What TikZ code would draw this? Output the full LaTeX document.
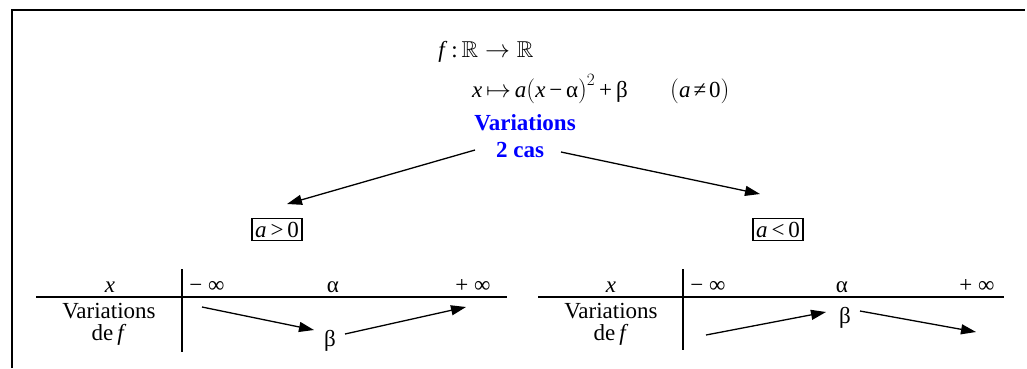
\documentclass[tikz,border=0pt]{standalone}
\usepackage{amssymb}
\usepackage{fontspec}
\setmainfont{Liberation Serif}
\usetikzlibrary{arrows.meta}
\definecolor{varblue}{RGB}{0,0,255}
\tikzset{
  txt/.style={inner sep=0pt, anchor=base, font=\fontsize{23}{24}\selectfont},
  boldblue/.style={txt, font=\fontsize{23}{24}\selectfont\bfseries, text=varblue},
  boxed/.style={txt, draw, line width=1.2pt, inner xsep=3pt, inner ysep=3pt},
  arr/.style={line width=1.3pt, -{Triangle[length=15pt,width=10pt]}},
  rule/.style={line width=2pt},
  frame/.style={line width=2pt}
}
\begin{document}
\begin{tikzpicture}[x=1pt,y=-1pt]
\useasboundingbox (0,0) rectangle (1027,368);
% frame (partly visible)
\coordinate (fb) at (12,368);
\coordinate (ftl) at (12,10);
\coordinate (ftr) at (1025,10);
\draw[frame] (fb) -- (ftl) -- (ftr);

% heading
\node[txt] (def1) at (486,57) {\textit{f}\,:\,$\mathbb{R}\to\mathbb{R}$};
\node[txt, anchor=base west] (def2) at (472,97) {\textit{x}\,$\mapsto$\,\textit{a}$\bigl($\textit{x}\,−\,α$\bigr)^{2}$\,+\,β};
\node[txt, anchor=base west] (cond) at (670,97) {$\bigl($\textit{a}\hspace{3pt}≠\hspace{3pt}0$\bigr)$};
\node[boldblue] (var1) at (525,130) {Variations};
\node[boldblue] (var2) at (520,157) {2 cas};

% cases
\node[boxed] (pos) at (277,237) {\textit{a}\hspace{4pt}>\hspace{4pt}0};
\node[boxed] (neg) at (778,237) {\textit{a}\hspace{4pt}<\hspace{4pt}0};
\coordinate (vl) at (475,150);
\coordinate (vr) at (561,152);
\coordinate (pl) at (287,204);
\coordinate (nr) at (760,194);
\draw[arr] (vl) -- (pl);
\draw[arr] (vr) -- (nr);

% left table
\coordinate (la) at (36,297);
\coordinate (lb) at (507,297);
\coordinate (lc) at (182,269);
\coordinate (ld) at (182,352);
\draw[rule] (la) -- (lb);
\draw[rule] (lc) -- (ld);
\node[txt] (lx) at (110,292) {\textit{x}};
\node[txt] (lmi) at (207,292) {− ∞};
\node[txt] (lal) at (333,292) {α};
\node[txt] (lpi) at (473,292) {+ ∞};
\node[txt] (lv1) at (109,318) {Variations};
\node[txt] (lv2) at (109,340) {de\,\textit{f}};
\node[txt] (lbe) at (330,346) {β};
\coordinate (l1s) at (202,307);
\coordinate (l1e) at (314,330);
\coordinate (l2s) at (345,334);
\coordinate (l2e) at (466,307);
\draw[arr] (l1s) -- (l1e);
\draw[arr] (l2s) -- (l2e);

% right table
\coordinate (ra) at (538,297);
\coordinate (rb) at (1004,297);
\coordinate (rc) at (683,269);
\coordinate (rd) at (683,350);
\draw[rule] (ra) -- (rb);
\draw[rule] (rc) -- (rd);
\node[txt] (rx) at (611,292) {\textit{x}};
\node[txt] (rmi) at (708,292) {− ∞};
\node[txt] (ral) at (842,292) {α};
\node[txt] (rpi) at (977,292) {+ ∞};
\node[txt] (rv1) at (611,318) {Variations};
\node[txt] (rv2) at (611,340) {de\,\textit{f}};
\node[txt] (rbe) at (845,323) {β};
\coordinate (r1s) at (706,335);
\coordinate (r1e) at (826,312);
\coordinate (r2s) at (860,311);
\coordinate (r2e) at (976,332);
\draw[arr] (r1s) -- (r1e);
\draw[arr] (r2s) -- (r2e);
\end{tikzpicture}
\end{document}
